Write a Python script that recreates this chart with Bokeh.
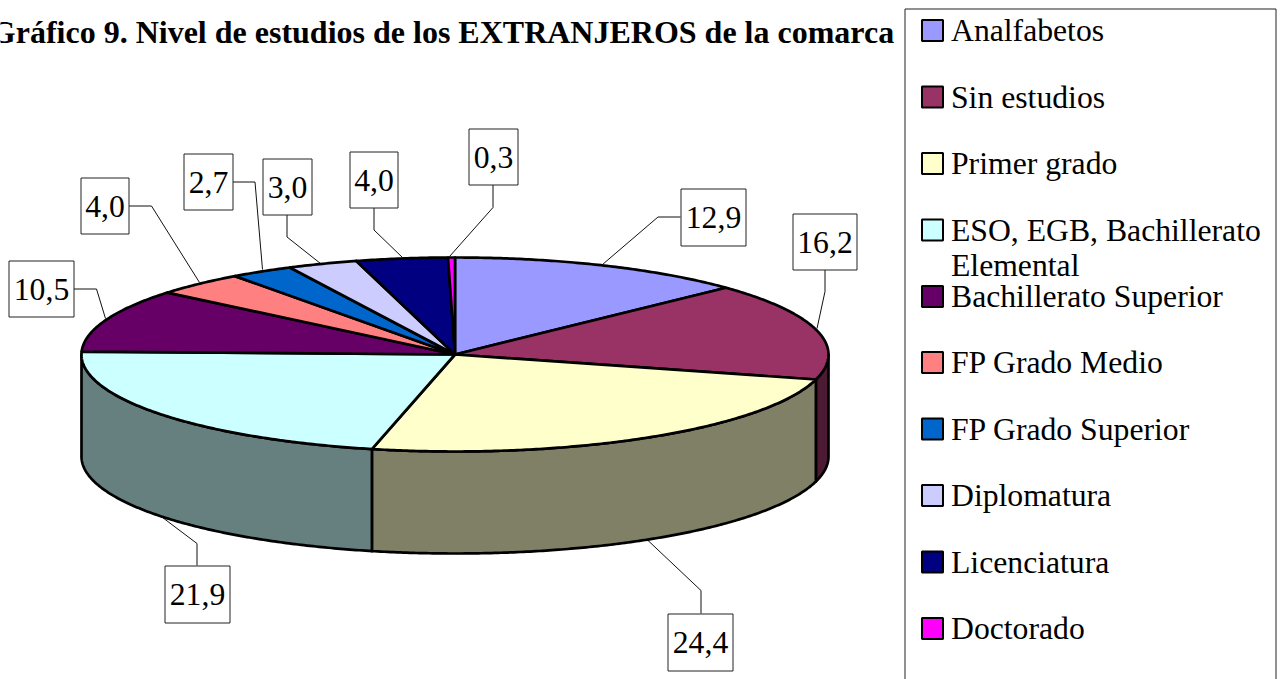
import numpy as np
from bokeh.plotting import figure
from bokeh.models import Range1d
from bokeh.core.properties import value
from bokeh.embed import file_html
from bokeh.resources import INLINE

# ---- chart data ----
title_text = "Gráfico 9. Nivel de estudios de los EXTRANJEROS de la comarca"
categories = ["Analfabetos", "Sin estudios", "Primer grado",
              "ESO, EGB, Bachillerato\nElemental", "Bachillerato Superior",
              "FP Grado Medio", "FP Grado Superior", "Diplomatura",
              "Licenciatura", "Doctorado"]
values = [12.94, 16.24, 24.45, 21.94, 10.54, 3.96, 2.74, 3.04, 3.96, 0.3]
value_labels = ["12,9", "16,2", "24,4", "21,9", "10,5", "4,0", "2,7", "3,0", "4,0", "0,3"]
top_colors = ["#9999FF", "#993366", "#FFFFCC", "#CCFFFF", "#660066",
              "#FF8080", "#0066CC", "#CCCCFF", "#000080", "#FF00FF"]
wall_colors = ["#4D4D80", "#4D1A33", "#808066", "#668080", "#330033",
               "#804040", "#003366", "#666680", "#000040", "#800080"]

# ---- layout (page pixels) ----
W, H = 1281, 679
CX, CY, RX, RY, DEPTH = 454.5, 354.0, 373.5, 97.0, 102.0
FONT = value("Liberation Serif")
TEXT_PX = "31.7px"
BASE_FIX = -10.5
label_boxes = [(680.5, 188.5, 745.5, 245.5), (792.5, 213.5, 856.5, 269.5),
               (667.5, 613.5, 732.5, 670.5), (164.5, 565.5, 229.5, 622.5),
               (8.5, 260.5, 73.5, 316.5), (80.5, 177.5, 128.5, 233.5),
               (183.5, 153.5, 232.5, 209.5), (262.5, 158.5, 311.5, 214.5),
               (349.5, 151.5, 397.5, 207.5), (468.5, 128.5, 517.5, 184.5)]
leaders = [[(680, 216.5), (657.5, 216.5), (602, 264)],
           [(824.5, 269), (824.5, 291), (816.5, 328)],
           [(700.5, 613), (700.5, 590), (647.5, 540)],
           [(196.5, 565), (196.5, 543), (162, 517)],
           [(73, 288.5), (96, 288.5), (105, 318)],
           [(128, 205.5), (151, 205.5), (199, 282)],
           [(232, 181.5), (254.5, 181.5), (262, 269)],
           [(286.5, 214), (286.5, 236.5), (320, 263)],
           [(373.5, 207), (373.5, 229.5), (402, 257)],
           [(492.5, 184), (492.5, 207), (449, 256)]]
legend_rows = [30, 96.5, 163, 229.5, 296, 362, 428.5, 495, 561.5, 628]
LEG_X0, LEG_X1, LEG_TOP = 904.5, 1275.5, 8.5


def rim(a, b, dy=0.0):
    t = np.radians(np.arange(a, b, 0.5).tolist() + [b])
    return CX + RX * np.sin(t), CY + dy - RY * np.cos(t)


p = figure(width=W, height=H, output_backend="svg", toolbar_location=None,
           x_range=Range1d(0, W), y_range=Range1d(H, 0), min_border=0,
           outline_line_color=None, background_fill_color="white",
           margin=(0, 0, 0, 0))
p.axis.visible = False
p.grid.visible = False

# leader lines
p.multi_line([[q[0] for q in l] for l in leaders], [[q[1] for q in l] for l in leaders],
             line_color="#111111", line_width=1)

# pie
edges = np.concatenate([[0], np.cumsum(values)]) / sum(values) * 360.0
wx, wy, wc, tx, ty, tc = [], [], [], [], [], []
for i, col in enumerate(top_colors):
    a, b = edges[i], edges[i + 1]
    lo, hi = max(a, 90.0), min(b, 270.0)
    if hi > lo:
        x1, y1 = rim(lo, hi)
        x2, y2 = rim(lo, hi, DEPTH)
        wx.append(np.concatenate([x1, x2[::-1]]).tolist())
        wy.append(np.concatenate([y1, y2[::-1]]).tolist())
        wc.append(wall_colors[i])
    x1, y1 = rim(a, b)
    tx.append([CX] + x1.tolist())
    ty.append([CY] + y1.tolist())
    tc.append(col)
p.patches(wx, wy, fill_color=wc, line_color="black", line_width=2.7, line_join="round")
p.patches(tx, ty, fill_color=tc, line_color="black", line_width=2.7, line_join="round")

# value labels
p.quad(left=[b[0] for b in label_boxes], right=[b[2] for b in label_boxes],
       top=[b[1] for b in label_boxes], bottom=[b[3] for b in label_boxes],
       fill_color="white", line_color="#222222", line_width=1)
p.text(x=[(b[0] + b[2]) / 2 for b in label_boxes],
       y=[(b[1] + b[3]) / 2 + 10.5 + BASE_FIX for b in label_boxes], text=value_labels,
       text_font=FONT, text_font_size=value(TEXT_PX), text_color="black",
       text_align="center", text_baseline="alphabetic")

# title, cut off by the window's left edge as in the reference
p.text(x=[-9.7], y=[42 + BASE_FIX], text=[title_text], text_font=FONT, text_font_style="bold",
       text_font_size=value("32px"), text_color="black",
       text_align="left", text_baseline="alphabetic")

# legend frame, open at the window's bottom edge
p.multi_line([[LEG_X0, LEG_X0, LEG_X1, LEG_X1]], [[H + 5, LEG_TOP, LEG_TOP, H + 5]],
             line_color="#222222", line_width=1)
p.quad(left=[921.5] * len(categories), right=[942.5] * len(categories),
       top=[y - 10.5 for y in legend_rows], bottom=[y + 10.5 for y in legend_rows],
       fill_color=top_colors, line_color="black", line_width=2)
lx, ly, lt = [], [], []
for row, name in zip(legend_rows, categories):
    for k, part in enumerate(name.split("\n")):
        lx.append(950.5)
        ly.append(row + 10.7 + BASE_FIX + k * 35.7)
        lt.append(part)
p.text(x=lx, y=ly, text=lt, text_font=FONT, text_font_size=value(TEXT_PX),
       text_color="black", text_align="left", text_baseline="alphabetic")

open("out.html", "w").write(file_html(p, INLINE))
